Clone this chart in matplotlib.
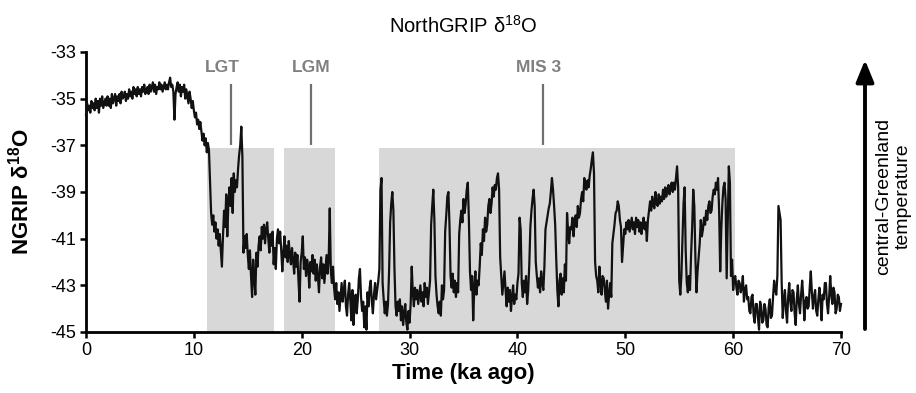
import matplotlib
matplotlib.use("Agg")
import matplotlib.pyplot as plt
import numpy as np

plt.rcParams['font.family'] = ['Liberation Sans', 'DejaVu Sans']
plt.rcParams['mathtext.default'] = 'regular'
plt.rcParams['axes.unicode_minus'] = False

# ---- data (NGRIP d18O, 0.1 ka sampling) ----
age_start = 0.0
age_step = 0.1

d18o_0_10 = [-35.7, -35.2, -35.5, -35.3, -35.6, -35.1, -35.4, -35.2, -35.5, -35.0,
             -35.4, -35.1, -35.6, -35.0, -35.3, -34.9, -35.4, -35.2, -35.0, -35.3,
             -34.9, -35.3, -35.0, -35.4, -34.8, -35.2, -35.0, -34.8, -35.3, -34.9,
             -35.1, -34.8, -35.2, -34.7, -35.0, -34.9, -34.7, -35.1, -34.8, -35.0,
             -34.6, -34.9, -34.7, -35.0, -34.5, -34.8, -34.6, -34.9, -34.5, -34.8,
             -34.6, -34.9, -34.5, -34.7, -34.4, -34.8, -34.6, -34.5, -34.8, -34.4,
             -34.7, -34.5, -34.3, -34.7, -34.4, -34.8, -34.5, -34.6, -34.3, -34.6,
             -34.4, -34.7, -34.5, -34.3, -34.6, -34.4, -34.6, -34.3, -34.1, -34.5,
             -34.4, -34.7, -35.9, -34.8, -34.5, -34.3, -34.7, -34.4, -34.9, -34.5,
             -34.7, -34.4, -35.0, -34.6, -34.9, -35.2, -34.7, -35.0, -35.4, -35.1]
d18o_10_20 = [-35.5, -35.8, -35.6, -36.1, -35.9, -36.3, -36.0, -36.4, -36.8, -36.5,
              -37.0, -36.7, -37.3, -36.9, -37.2, -38.6, -39.9, -40.4, -40.0, -40.7,
              -40.3, -41.0, -40.6, -41.3, -40.8, -41.5, -42.2, -40.9, -39.8, -40.5,
              -39.1, -40.9, -39.5, -38.8, -39.6, -38.4, -39.9, -38.2, -39.0, -38.5,
              -38.8, -38.0, -37.4, -37.0, -36.2, -37.5, -41.6, -40.9, -41.4, -40.8,
              -41.7, -42.3, -41.5, -42.6, -43.5, -41.9, -42.7, -43.4, -41.6, -42.2,
              -41.3, -40.9, -41.5, -40.5, -41.0, -40.4, -41.2, -40.6, -40.3, -41.0,
              -41.6, -40.8, -41.3, -40.7, -42.1, -41.4, -42.3, -41.0, -40.6, -41.2,
              -40.7, -41.5, -42.4, -41.6, -40.9, -41.8, -41.3, -42.0, -41.1, -41.7,
              -42.1, -41.4, -41.9, -42.5, -41.6, -42.2, -41.7, -42.8, -43.7, -42.0]
d18o_20_30 = [-41.6, -40.9, -42.3, -41.8, -42.6, -41.9, -42.2, -43.1, -42.0, -42.4,
              -41.7, -42.5, -41.9, -42.8, -42.1, -42.6, -43.3, -42.2, -41.8, -42.7,
              -42.1, -42.9, -42.3, -41.7, -42.5, -41.9, -39.7, -42.4, -42.9, -42.2,
              -43.1, -43.6, -42.9, -43.8, -43.3, -44.1, -43.5, -42.9, -43.7, -43.2,
              -42.8, -43.9, -44.3, -43.4, -42.9, -43.6, -44.5, -43.2, -44.7, -43.8,
              -43.4, -44.2, -43.6, -42.7, -42.3, -43.5, -44.1, -43.7, -44.8, -43.9,
              -44.9, -43.3, -43.9, -43.1, -42.8, -43.7, -44.2, -43.4, -42.9, -43.6,
              -43.2, -42.8, -42.3, -38.9, -38.4, -42.9, -43.6, -44.2, -43.7, -44.3,
              -43.8, -42.4, -40.3, -39.5, -39.0, -39.8, -42.3, -43.9, -44.3, -43.7,
              -44.1, -43.6, -44.5, -43.9, -44.7, -44.2, -43.8, -44.6, -44.9, -44.1]
d18o_30_40 = [-44.6, -43.8, -42.2, -43.3, -43.9, -43.1, -43.6, -43.2, -43.8, -43.4,
              -43.0, -43.7, -43.3, -43.9, -42.9, -43.5, -43.1, -43.8, -43.3, -42.8,
              -40.4, -39.6, -38.9, -40.2, -42.6, -43.4, -43.9, -44.2, -43.7, -44.3,
              -43.0, -43.6, -43.2, -40.7, -40.0, -39.2, -39.0, -40.4, -42.6, -43.1,
              -42.5, -43.3, -42.8, -43.5, -42.9, -43.3, -40.8, -40.2, -39.8, -40.3,
              -39.3, -39.9, -39.5, -38.9, -38.6, -40.2, -42.4, -43.2, -42.6, -44.5,
              -43.1, -42.4, -43.4, -42.8, -43.0, -42.2, -41.2, -41.7, -40.6, -41.1,
              -40.1, -40.7, -40.4, -39.6, -39.3, -39.9, -39.5, -38.8, -39.2, -38.7,
              -38.9, -38.4, -38.2, -38.9, -41.8, -42.6, -43.4, -42.9, -42.4, -43.2,
              -43.9, -43.1, -43.7, -43.2, -44.1, -43.5, -43.0, -43.8, -43.4, -43.6]
d18o_40_50 = [-42.9, -42.5, -40.1, -40.6, -42.9, -43.5, -42.8, -43.3, -42.6, -43.8,
              -43.2, -42.1, -40.5, -39.8, -39.3, -38.9, -39.6, -42.0, -42.6, -43.1,
              -42.7, -43.3, -42.4, -42.9, -43.2, -42.2, -40.6, -40.3, -40.0, -39.7,
              -39.5, -39.0, -38.4, -38.9, -39.6, -40.4, -41.9, -43.2, -43.9, -42.8,
              -42.5, -43.4, -42.7, -43.3, -42.1, -42.8, -39.9, -40.7, -41.2, -40.5,
              -40.6, -40.1, -40.9, -40.3, -40.0, -40.5, -39.6, -40.1, -39.9, -39.3,
              -39.0, -39.4, -38.4, -38.8, -38.9, -38.5, -38.8, -38.3, -38.0, -37.6,
              -37.3, -38.2, -42.0, -42.6, -42.8, -43.3, -42.2, -42.9, -43.4, -42.6,
              -42.7, -43.2, -43.7, -42.8, -44.0, -43.4, -42.9, -43.5, -41.2, -40.8,
              -40.4, -39.9, -39.8, -39.4, -39.6, -40.2, -40.5, -42.0, -41.3, -40.6]
d18o_50_60 = [-40.8, -40.3, -40.6, -40.2, -40.7, -40.4, -40.1, -40.6, -40.3, -40.8,
              -40.1, -40.5, -40.2, -40.7, -40.3, -40.8, -40.4, -40.1, -40.6, -40.3,
              -41.1, -40.2, -39.8, -39.4, -39.8, -39.2, -39.6, -39.7, -39.0, -39.5,
              -39.6, -39.1, -39.5, -39.2, -39.4, -38.9, -39.3, -38.8, -39.2, -38.9,
              -38.7, -39.1, -38.8, -38.6, -39.0, -38.6, -38.9, -38.4, -37.9, -38.8,
              -42.8, -43.4, -42.6, -41.0, -39.5, -38.8, -41.5, -42.9, -43.3, -42.6,
              -43.2, -41.7, -40.5, -38.9, -39.6, -41.8, -43.3, -42.4, -41.8, -41.2,
              -40.2, -40.9, -40.6, -40.1, -40.4, -39.8, -40.2, -39.6, -39.4, -39.9,
              -39.8, -39.2, -38.9, -39.1, -38.6, -38.9, -38.4, -39.8, -42.4, -40.6,
              -39.5, -38.8, -38.6, -39.3, -42.7, -40.2, -37.9, -38.6, -42.6, -41.9]
d18o_60_70 = [-43.2, -42.7, -42.6, -43.1, -43.4, -42.8, -42.9, -43.3, -43.1, -42.6,
              -43.7, -43.2, -43.0, -43.6, -43.5, -44.1, -44.2, -43.5, -43.4, -44.3,
              -44.6, -43.8, -43.8, -44.4, -44.9, -43.7, -43.9, -44.6, -44.5, -43.8,
              -44.0, -44.7, -44.8, -43.9, -43.6, -44.4, -44.3, -43.5, -42.8, -43.2,
              -43.4, -42.6, -39.6, -39.9, -40.2, -42.9, -44.4, -43.6, -43.2, -44.1,
              -44.6, -43.5, -42.9, -43.7, -44.1, -43.2, -43.3, -44.2, -44.7, -43.6,
              -43.0, -43.8, -44.2, -43.4, -42.8, -43.5, -44.5, -43.7, -43.5, -44.0,
              -43.9, -43.1, -42.4, -43.3, -44.0, -43.5, -43.2, -44.1, -44.3, -43.6,
              -43.1, -43.7, -44.5, -43.4, -43.6, -42.9, -42.9, -43.8, -44.2, -43.5,
              -42.6, -43.4, -43.8, -43.1, -43.3, -44.2, -44.0, -43.4, -43.5, -44.1,
              -43.8]

# shaded periods
period_names = ['LGT', 'LGM', 'MIS 3']
period_start = [11.2, 18.4, 27.2]
period_end = [17.4, 23.1, 60.2]
period_top = -37.1
label_x = [12.6, 20.85, 42.0]
line_x = [13.4, 20.9, 42.4]

xticks = [0, 10, 20, 30, 40, 50, 60, 70]
yticks = [-33, -35, -37, -39, -41, -43, -45]

values = np.array(d18o_0_10 + d18o_10_20 + d18o_20_30 + d18o_30_40 +
                  d18o_40_50 + d18o_50_60 + d18o_60_70)
ages = age_start + age_step * np.arange(len(values))

fig = plt.figure(figsize=(9.16, 3.93), dpi=100)
ax = fig.add_axes([86/916, 1-332/393, (841-86)/916, (332-52)/393])

for s, e in zip(period_start, period_end):
    ax.fill_between([s, e], -45, period_top, color='#d7d8d7', lw=0, zorder=1)

for name, lx, x in zip(period_names, label_x, line_x):
    ax.plot([x, x], [period_top + 0.1, -34.35], color='#707070', lw=1.6, zorder=2,
            solid_capstyle='butt')
    ax.text(lx, -34.0, name, ha='center', va='bottom', fontsize=12.5,
            fontweight='bold', color='#808080')

ax.plot(ages, values, color='#111111', lw=1.6, zorder=3, clip_on=False)

ax.set_xlim(0, 70)
ax.set_ylim(-45, -33)
ax.set_xticks(xticks)
ax.set_yticks(yticks)
ax.tick_params(labelsize=13, direction='out', length=4, width=1.8, pad=3)
for sp in ['top', 'right']:
    ax.spines[sp].set_visible(False)
for sp in ['left', 'bottom']:
    ax.spines[sp].set_linewidth(2.0)

ax.set_xlabel('Time (ka ago)', fontsize=16, fontweight='bold', labelpad=3)
ax.set_ylabel('NGRIP δ$^{18}$O', fontsize=16, fontweight='bold', labelpad=12)
ax.set_title('NorthGRIP δ$^{18}$O', fontsize=14.5, pad=14)

# right-hand arrow and label
ax.annotate('', xy=(865/916, 1-60/393), xytext=(865/916, 1-329/393),
            xycoords='figure fraction', textcoords='figure fraction',
            arrowprops=dict(arrowstyle='-|>,head_width=0.45,head_length=1.1',
                            lw=2.8, color='black', mutation_scale=12,
                            shrinkA=0, shrinkB=0))
fig.text(893/916, 1-196/393, 'central-Greenland\ntemperature', rotation=90,
         ha='center', va='center', fontsize=14, multialignment='center')

fig.savefig('out.png', dpi=100)
